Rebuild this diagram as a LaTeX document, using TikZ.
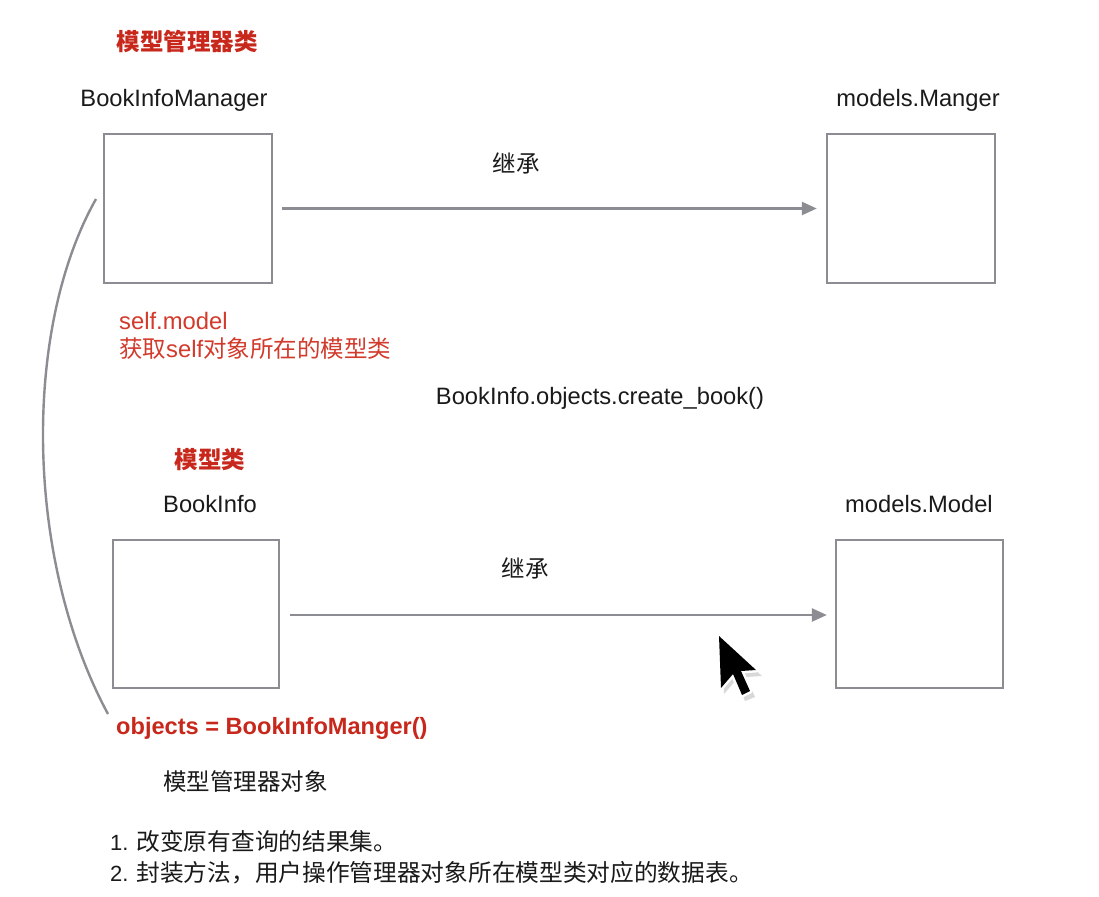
\documentclass[tikz,border=0pt]{standalone}
\usepackage{fontspec}
\setmainfont{Liberation Sans}
\newfontfamily\cjk{Noto Sans CJK SC}
\usetikzlibrary{arrows.meta}
\definecolor{linegray}{HTML}{8B8D92}
\definecolor{txtred}{HTML}{D23A2C}
\definecolor{boldred}{HTML}{C8281C}
\definecolor{txtblack}{HTML}{1A1A1A}
\tikzset{
  classbox/.style={draw=linegray, line width=2.4pt, fill=white, inner sep=0pt},
  inherit/.style={draw=linegray, line width=2.4pt, -{Triangle[length=15pt,width=13pt]}},
  lbl/.style={inner sep=0pt, text=txtblack, font=\fontsize{23.7}{28}\selectfont},
  cjklbl/.style={inner sep=0pt, text=txtblack, font=\cjk\fontsize{23.5}{28}\selectfont},
  redtitle/.style={inner sep=0pt, text=boldred, font=\cjk\bfseries\fontsize{23.5}{28}\selectfont},
  rednote/.style={inner sep=0pt, text=txtred, font=\fontsize{23.8}{28}\selectfont, anchor=base west},
}
\begin{document}
\begin{tikzpicture}[x=1pt,y=-1pt]
\useasboundingbox[fill=white] (0,0) rectangle (1099,896);

% titles
\node[redtitle] (t1) at (187,41) {模型管理器类};
\node[lbl, anchor=base] (n1) at (174,107) {BookInfoManager};
\node[lbl, anchor=base] (n2) at (918,107) {models.Manger};

% boxes top
\node[classbox, minimum width=168pt, minimum height=149pt] (b1) at (188,208.5) {};
\node[classbox, minimum width=168pt, minimum height=149pt] (b2) at (911,208.5) {};
\draw[inherit, shorten <=9pt, shorten >=9pt] (b1.east) -- (b2.west);
\node[cjklbl] (i1) at (516,163) {继承};

% red notes
\node[rednote] (s1) at (119,329) {self.model};
\node[rednote] (s2) at (119,357) {{\cjk\fontsize{23.5}{28}\selectfont 获取}self{\cjk\fontsize{23.5}{28}\selectfont 对象所在的模型类}};

\node[lbl, anchor=base] (c1) at (600,404) {BookInfo.objects.create\_book()};

\node[redtitle] (t2) at (210,460) {模型类};
\node[lbl, anchor=base] (n3) at (210,512) {BookInfo};
\node[lbl, anchor=base] (n4) at (919,512) {models.Model};

% boxes bottom
\node[classbox, minimum width=166pt, minimum height=148pt] (b3) at (196,614) {};
\node[classbox, minimum width=167pt, minimum height=148pt] (b4) at (919.5,614) {};
\draw[inherit, shorten <=10pt, shorten >=8pt] (b3.east |- 0,615) coordinate (a3) -- (b4.west |- 0,615) coordinate (a4);
\node[cjklbl] (i2) at (525,568) {继承};

% objects
\node[inner sep=0pt, text=boldred, font=\bfseries\fontsize{23.6}{28}\selectfont, anchor=base west] (obj) at (116,734) {objects = BookInfoManger()};
\node[cjklbl, anchor=west] (mo) at (163,782) {模型管理器对象};

% list
\node[inner sep=0pt, text=txtblack, anchor=west, font=\fontsize{22}{26}\selectfont] (l1) at (110,841) {1.\hspace{8pt}{\cjk\fontsize{23.7}{28}\selectfont 改变原有查询的结果集。}};
\node[inner sep=0pt, text=txtblack, anchor=west, font=\fontsize{22}{26}\selectfont] (l2) at (110,873) {2.\hspace{8pt}{\cjk\fontsize{23.7}{28}\selectfont 封装方法，用户操作管理器对象所在模型类对应的数据表。}};

% curve
\coordinate (cs) at (96,199);
\coordinate (ce) at (108,714);
\draw[linegray, line width=2.4pt] (cs) .. controls (22,330) and (25,560) .. (ce);

% cursor
\fill[black!30, opacity=0.5] (722,641) -- (724,694) -- (736,680) -- (745,701) -- (755,697) -- (746,677) -- (762,676) -- cycle;
\draw[white, line width=5pt, line join=round, fill=black] (719,636) -- (721,688) -- (733,674) -- (742,695) -- (750,691) -- (741,671) -- (756,670) -- cycle;
\fill[black] (719,636) -- (721,688) -- (733,674) -- (742,695) -- (750,691) -- (741,671) -- (756,670) -- cycle;
\end{tikzpicture}
\end{document}
